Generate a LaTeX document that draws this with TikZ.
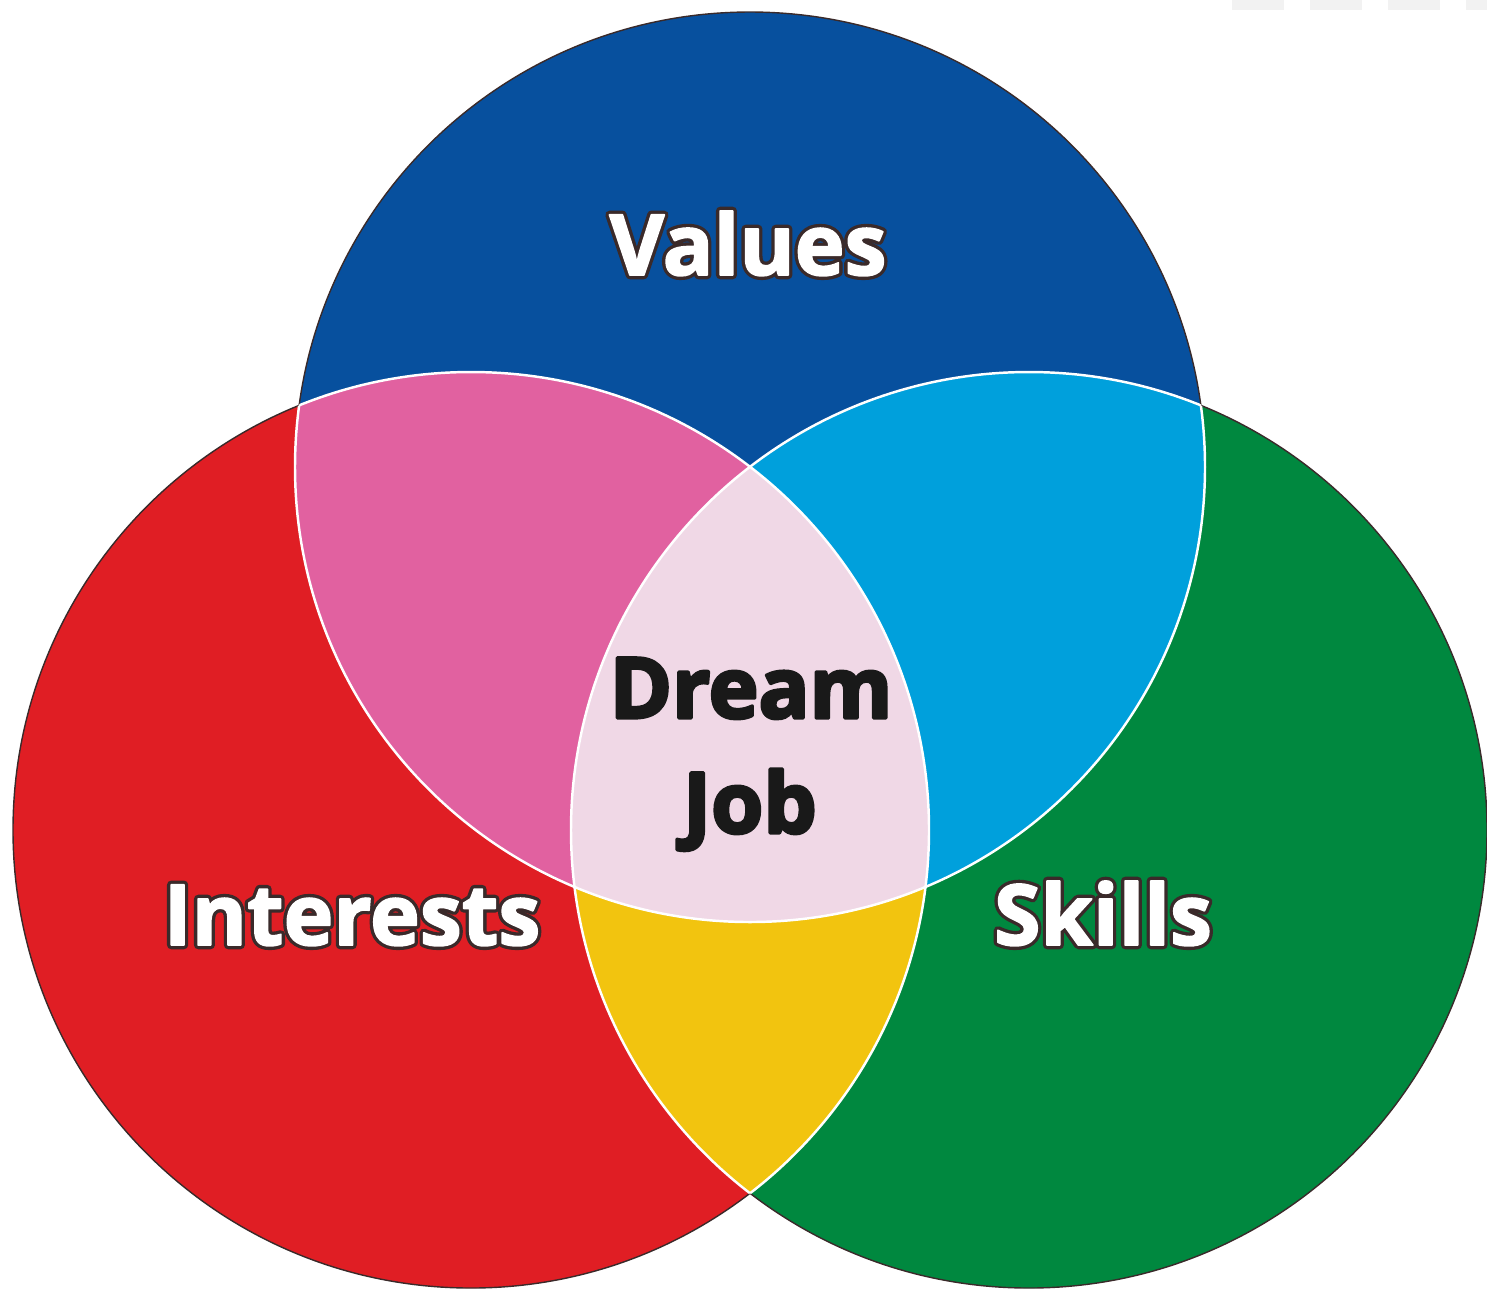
\documentclass[tikz,border=0pt]{standalone}
\usepackage{fontspec}
\setmainfont{Open Sans}
\usepackage{xcolor}
\usepackage{tikz}

\definecolor{valblue}{HTML}{07509E}
\definecolor{intred}{HTML}{E01E24}
\definecolor{skigreen}{HTML}{00883F}
\definecolor{vipink}{HTML}{E161A0}
\definecolor{vscyan}{HTML}{00A0DC}
\definecolor{isyellow}{HTML}{F2C40F}
\definecolor{dreampink}{HTML}{F0D8E6}
\definecolor{rimdark}{HTML}{3A2A2A}
\definecolor{tabgrey}{HTML}{F2F2F2}

% letters painted with a stroke: #1 render mode, #2 width, #3 stroke colour
\newcommand{\rimmed}[4]{\special{pdf:literal direct #1 Tr #2 w 1 j #3 RG}#4\special{pdf:literal direct 0 Tr}}
% white letters with a thin dark rim
\newcommand{\outlined}[1]{\rlap{\rimmed{1}{2.4}{0.227 0.165 0.165}{#1}}\rimmed{2}{0.5}{1 1 1}{#1}}
\newcommand{\heavy}[1]{\rimmed{2}{0.9}{0.1 0.1 0.1}{#1}}

\tikzset{
  circlab/.style={font=\fontsize{24}{28}\selectfont\bfseries, text=white, inner sep=0pt, anchor=base},
  dreamlab/.style={font=\fontsize{24}{28}\selectfont\bfseries, text=black!90, inner sep=0pt, anchor=base},
  rim/.style={draw=rimdark, line width=0.4pt},
  seam/.style={draw=white, line width=0.7pt}
}

\begin{document}
\begin{tikzpicture}
  % Centres of the three circles
  \coordinate (V) at (7.50,-4.67); % Values
  \coordinate (I) at (4.71,-8.30); % Interests
  \coordinate (S) at (10.29,-8.30); % Skills
  \def\valrad{4.55}
  \def\siderad{4.58}

  \useasboundingbox (0,0) rectangle (14.87,-12.92);

	% Faint grey tabs in the top corner
	\foreach \x/\w in {12.32/0.52,13.10/0.52,13.88/0.52,14.66/0.21}
	  \fill[tabgrey] (\x,0) rectangle ++(\w,-0.10);

	% Fill the three circles
	\fill[valblue,rim] (V) circle (\valrad);
	\fill[intred,rim] (I) circle (\siderad);
	\fill[skigreen,rim] (S) circle (\siderad);

	  % Pairwise overlaps
	  \begin{scope}
	    \clip (V) circle (\valrad);
	    \fill[vipink] (I) circle (\siderad);
	    \fill[vscyan] (S) circle (\siderad);
	  \end{scope}
	  \begin{scope}
	    \clip (I) circle (\siderad);
	    \fill[isyellow] (S) circle (\siderad);
	  \end{scope}
	  % Centre of all three
	  \begin{scope}
	    \clip (V) circle (\valrad);
	    \clip (I) circle (\siderad);
	    \fill[dreampink] (S) circle (\siderad);
	  \end{scope}

	% White seams inside the overlaps
	\begin{scope}
	  \clip (I) circle (\siderad) (S) circle (\siderad);
	  \draw[seam] (V) circle (\valrad);
	\end{scope}
	\begin{scope}
	  \clip (V) circle (\valrad) (S) circle (\siderad);
	  \draw[seam] (I) circle (\siderad);
	\end{scope}
	\begin{scope}
	  \clip (V) circle (\valrad) (I) circle (\siderad);
	  \draw[seam] (S) circle (\siderad);
	\end{scope}

	% Labels
	\node[circlab] (values) at (7.48,-2.75) {\outlined{Values}};
	\node[circlab] (interests) at (3.52,-9.45) {\outlined{Interests}};
	\node[circlab] (skills) at (11.03,-9.45) {\outlined{Skills}};
	\node[dreamlab] (dream) at (7.51,-7.18) {\heavy{Dream}};
	\node[dreamlab] (job) at (7.50,-8.33) {\heavy{Job}};

\end{tikzpicture}
\end{document}
